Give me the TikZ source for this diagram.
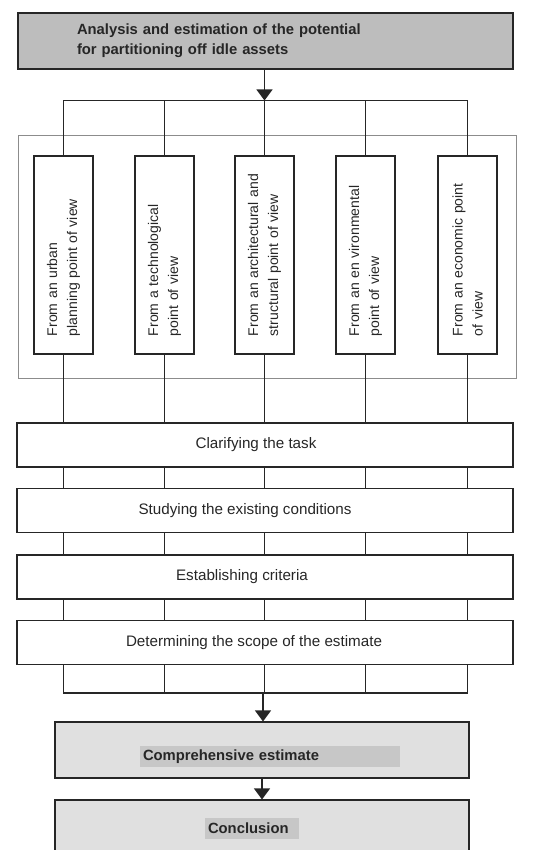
\documentclass[tikz,border=0pt]{standalone}
\usepackage{fontspec}
\setmainfont{Liberation Sans}
\usetikzlibrary{arrows.meta}
\usetikzlibrary{positioning}

\begin{document}
\begin{tikzpicture}
[every node/.style={rectangle,draw=black!85,line width=1.1pt,font=\fontsize{15.2}{20}\selectfont},
 view/.style={rotate=90,text width=162pt,inner xsep=18pt,minimum height=59pt,align=left,font=\fontsize{14}{20}\selectfont},
 stage/.style={minimum width=496pt,minimum height=44pt},
 result/.style={fill=black!12,minimum width=414pt},
 hilite/.style={draw=none,fill=black!22,inner xsep=3pt,inner ysep=1pt,minimum height=21pt,align=left,font=\bfseries\fontsize{14.8}{20}\selectfont},
 tip/.style={-{Triangle[length=11pt,width=16pt]}},
 line width=1.1pt,color=black!85,x=1pt,y=-1pt]

\useasboundingbox (0,0) rectangle (549,850);

%top of the chart
\node[fill=black!26,minimum width=495pt,minimum height=56pt,text width=377pt,inner xsep=59pt,align=left,
      font=\bfseries\fontsize{14.8}{20}\selectfont] (Analysis) at (265.5,41)
      {Analysis and estimation of the potential\\for partitioning off idle assets};
\coordinate (Bus) at (264.5,100.5);

%the five points of view
\node[draw=black!45,line width=0.6pt,minimum width=498pt,minimum height=243pt] (Frame) at (267,256.5) {};
\node[view] (Urban) at (63.5,255) {From an urban\\planning point of view};
\node[view] (Techno) at (164.5,255) {From a technological\\point of view};
\node[view] (Archi) at (264.5,255) {From an architectural and\\structural point of view};
\node[view] (Enviro) at (365.5,255) {From an en vironmental\\point of view};
\node[view] (Econ) at (467.5,255) {From an economic point\\of view};

\node[stage] (Task) at (265,445) {\hspace*{-18pt}Clarifying the task};
\node[stage] (Study) at (265,510.5) {\hspace*{-40pt}Studying the existing conditions};
\node[stage] (Criteria) at (265,577) {\hspace*{-46pt}Establishing criteria};
\node[stage] (Scope) at (265,642.5) {\hspace*{-22pt}Determining the scope of the estimate};
\coordinate (Join) at (263,693);

\node[result,minimum height=56pt] (Estimate) at (262,750) {};
\node[hilite,text width=254pt] (EstimateText) at (270,756.5) {Comprehensive estimate};
\node[result,minimum height=70pt] (Conclusion) at (262,835) {};
\node[hilite,text width=88pt] (ConclusionText) at (252,828) {Conclusion};

\draw[tip] (Analysis.south -| Bus) -- (Bus);
\draw (Urban.east) |- (Bus) -| (Econ.east);
\path (Techno.east) edge (Techno.east |- Bus)
	(Archi.east) edge (Bus)
	(Enviro.east) edge (Enviro.east |- Bus);

\path (Urban.west) edge (Urban.west |- Task.north)
	(Techno.west) edge (Techno.west |- Task.north)
	(Archi.west) edge (Archi.west |- Task.north)
	(Enviro.west) edge (Enviro.west |- Task.north)
	(Econ.west) edge (Econ.west |- Task.north);
\path (Task.south -| Urban.west) edge (Study.north -| Urban.west)
	(Task.south -| Techno.west) edge (Study.north -| Techno.west)
	(Task.south -| Archi.west) edge (Study.north -| Archi.west)
	(Task.south -| Enviro.west) edge (Study.north -| Enviro.west)
	(Task.south -| Econ.west) edge (Study.north -| Econ.west);
\path (Study.south -| Urban.west) edge (Criteria.north -| Urban.west)
	(Study.south -| Techno.west) edge (Criteria.north -| Techno.west)
	(Study.south -| Archi.west) edge (Criteria.north -| Archi.west)
	(Study.south -| Enviro.west) edge (Criteria.north -| Enviro.west)
	(Study.south -| Econ.west) edge (Criteria.north -| Econ.west);
\path (Criteria.south -| Urban.west) edge (Scope.north -| Urban.west)
	(Criteria.south -| Techno.west) edge (Scope.north -| Techno.west)
	(Criteria.south -| Archi.west) edge (Scope.north -| Archi.west)
	(Criteria.south -| Enviro.west) edge (Scope.north -| Enviro.west)
	(Criteria.south -| Econ.west) edge (Scope.north -| Econ.west);
\draw (Scope.south -| Urban.west) -- (Join -| Urban.west) -- (Join -| Econ.west) -- (Scope.south -| Econ.west);
\path (Scope.south -| Techno.west) edge (Join -| Techno.west)
	(Scope.south -| Archi.west) edge (Join -| Archi.west)
	(Scope.south -| Enviro.west) edge (Join -| Enviro.west);

\draw[tip] (Join) -- (Join |- Estimate.north);
\draw[tip] (Estimate) -- (Conclusion);
\end{tikzpicture}
\end{document}
